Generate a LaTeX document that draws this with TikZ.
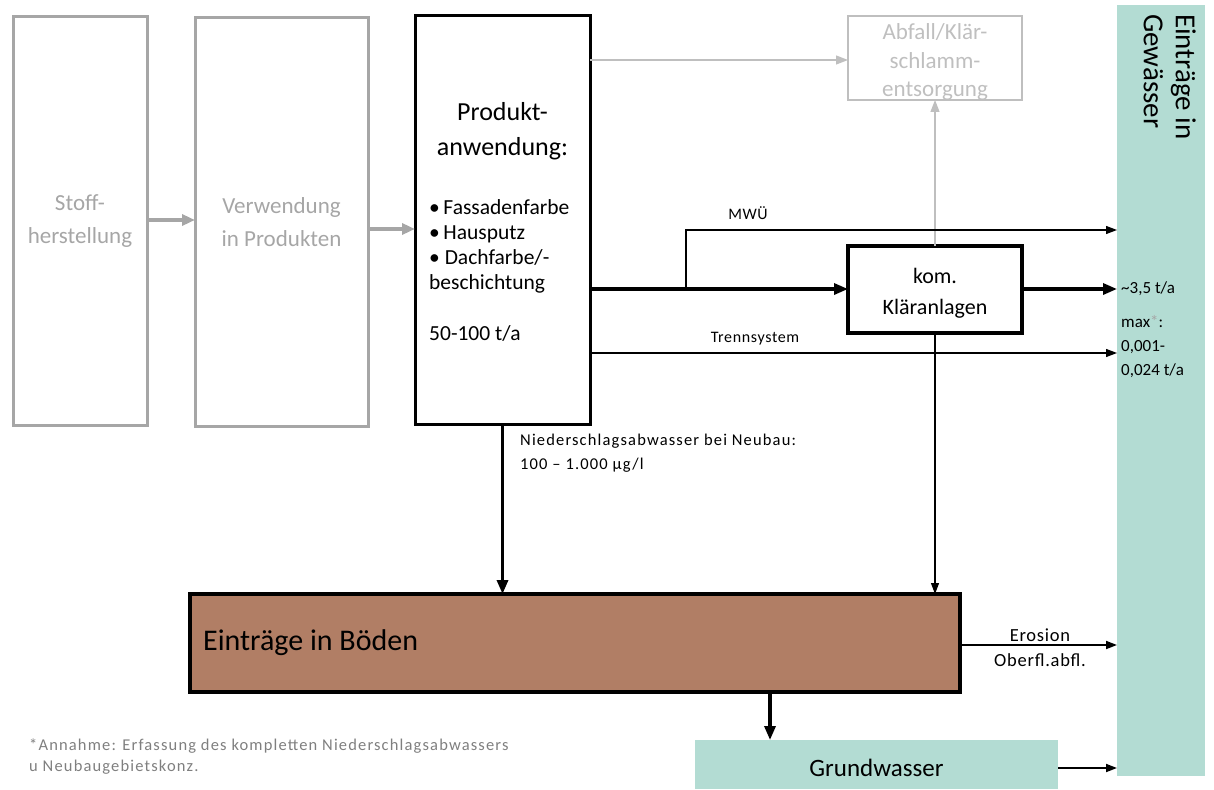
\documentclass[tikz,border=0pt]{standalone}
\usepackage{fontspec}
\setmainfont{Carlito}
\newfontfamily\spaced[LetterSpace=7]{Carlito}
\newfontfamily\spacedb[LetterSpace=4]{Carlito}
\usetikzlibrary{arrows.meta}
\definecolor{gw}{HTML}{B3DCD3}
\definecolor{soil}{HTML}{B17E65}
\definecolor{gl}{HTML}{A6A6A6}
\definecolor{gll}{HTML}{BFBFBF}
\definecolor{gtext}{HTML}{7F7F7F}
\newcommand{\fs}[2]{\fontsize{#1pt}{#2pt}\selectfont}
\begin{document}
\begin{tikzpicture}[x=1pt,y=-1pt,
  boxbase/.style={rectangle, inner sep=0pt, outer sep=0pt},
  graybox/.style={boxbase, draw=gl, line width=3pt, text=gl, align=center},
  lightbox/.style={boxbase, draw=gll, line width=2.5pt},
  blackbox/.style={boxbase, draw=black, line width=3pt},
  thinarr/.style={line width=1.2pt, -{Triangle[length=11pt,width=8pt]}},
  thickarr/.style={line width=3.2pt, -{Triangle[length=14pt,width=11pt]}},
  grayarr/.style={line width=3.5pt, -{Triangle[length=13pt,width=11pt]}, color=gl},
  lgrayarr/.style={color=gll, line width=1.2pt, -{Triangle[length=12pt,width=9pt]}},
  lbl/.style={inner sep=0pt, font=\fs{15.5}{20}}
]
\useasboundingbox (0,0) rectangle (1214,789);

% boxes
\node[graybox, minimum width=134pt, minimum height=408pt, font=\fs{23}{33}] (stoff) at (80,221) {Stoff-\\herstellung};
\node[graybox, minimum width=173pt, minimum height=408pt, font=\fs{23}{33}] (verw) at (281.5,222) {Verwendung\\in Produkten};
\node[blackbox, minimum width=175pt, minimum height=408pt] (prod) at (502.5,220) {};
\node[inner sep=0pt, align=center, font=\fs{26}{35}] (prodh) at (502.5,131) {Produkt-\\anwendung:};
\node[inner sep=0pt, align=left, anchor=north west, font=\fs{21.5}{25}] (prodl) at (429,199)
  {•\,Fassadenfarbe\\•\,Hausputz\\• Dachfarbe/-\\beschichtung\\[26pt]50-100 t/a};
\node[lightbox, minimum width=174pt, minimum height=84pt] (abf) at (935,58) {};
\node[inner sep=0pt, align=center, text=gll, font=\fs{23}{28.5}] (abft) at (935,62) {Abfall/Klär-\\schlamm-\\entsorgung};
\node[blackbox, line width=3.5pt, minimum width=174pt, minimum height=87pt] (klaer) at (935,289.5) {};
\node[inner sep=0pt, align=center, font=\fs{22}{31}] (klaert) at (935,293) {kom.\\Kläranlagen};
\node[boxbase, fill=gw, minimum width=88pt, minimum height=771pt] (gew) at (1161,390.5) {};
\node[inner sep=0pt, rotate=-90, anchor=north west, align=left, font=\fs{29}{32}] (gewt) at (1196,14) {Einträge in\\Gewässer};
\node[boxbase, fill=soil, draw=black, line width=3.5pt, minimum width=770pt, minimum height=98pt] (boden) at (575,643) {};
\node[inner sep=0pt, anchor=west, font=\fs{30}{34}] (bodent) at (203,643) {Einträge in Böden};
\node[boxbase, fill=gw, minimum width=363pt, minimum height=49pt] (grund) at (876.5,764.5) {};
\node[inner sep=0pt, font=\fs{25}{28}] (grundt) at (876.5,768) {Grundwasser};

% connectors
\draw[grayarr] (stoff.east |- 0,220) -- (verw.west |- 0,220);
\draw[grayarr] (verw.east |- 0,229) -- (prod.west |- 0,229);
\draw[lgrayarr] (prod.east |- 0,60) -- (abf.west |- 0,60);
\draw[lgrayarr] (klaer.north) -- (abf.south);
\draw[thickarr] (prod.east |- 0,289) -- (klaer.west |- 0,289);
\coordinate (br) at (686,289);
\draw[thinarr] (br) |- (gew.west |- 0,230);
\draw[thickarr] (klaer.east |- 0,289) -- (gew.west |- 0,289);
\draw[thinarr] (prod.east |- 0,353) -- (gew.west |- 0,353);
\draw[thinarr] (klaer.south) -- (boden.north -| klaer.south);
\draw[thickarr] (prod.south) -- (boden.north -| prod.south);
\draw[thinarr, line width=1.8pt] (boden.east |- 0,645) -- (gew.west |- 0,645);
\draw[thickarr] (boden.south -| 770,0) -- (grund.north -| 770,0);
\draw[thinarr, line width=1.8pt] (grund.east |- 0,768) -- (gew.west |- 0,768);

% labels
\node[lbl, font=\spacedb\fs{16}{20}] (mwu) at (748,213) {MWÜ};
\node[lbl, font=\spacedb\fs{16}{20}] (trenn) at (755,339) {Trennsystem};
\node[lbl, anchor=west, font=\fs{17}{24}] (l35) at (1121,289) {\textasciitilde3,5 t/a};
\node[lbl, anchor=north west, align=left, font=\fs{17}{24}] (lmax) at (1121,315) {max{\color{gl}*}:\\0,001-\\0,024 t/a};
\node[lbl, anchor=north west, align=left, font=\spaced\fs{16.5}{24}] (lnied) at (520,434) {Niederschlagsabwasser bei Neubau:\\100 – 1.000 µg/l};
\node[lbl, font=\spacedb\fs{18.5}{20}] (lero) at (1040,635) {Erosion};
\node[lbl, font=\spacedb\fs{18.5}{20}] (lober) at (1040,660) {Oberfl.abfl.};
\node[lbl, anchor=north west, align=left, text=gtext, font=\spaced\fs{16.5}{21}] (foot) at (29,739) {*Annahme: Erfassung des kompletten Niederschlagsabwassers\\u Neubaugebietskonz.};
\end{tikzpicture}
\end{document}
